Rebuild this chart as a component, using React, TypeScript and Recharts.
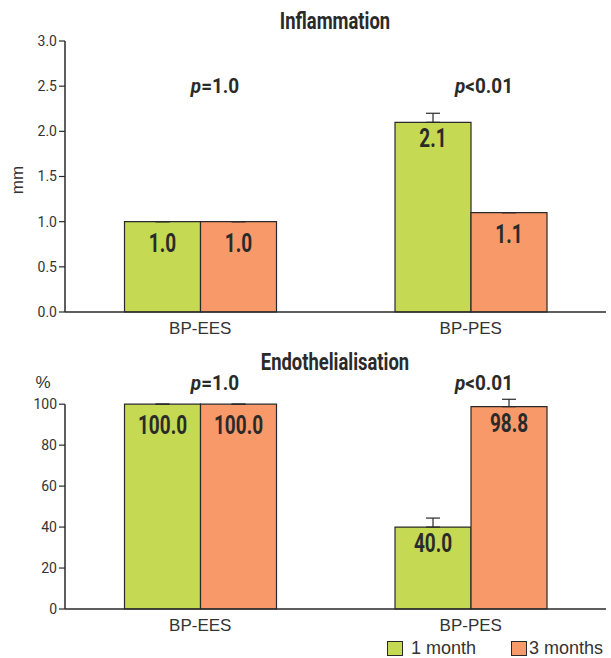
import { BarChart, Bar, XAxis, YAxis, ErrorBar, LabelList, ReferenceArea, ReferenceLine } from "recharts";
import type { CSSProperties, ReactNode } from "react";

const groups = ["BP-EES", "BP-PES"];

const inflammation1m = [1.0, 2.1];
const inflammation3m = [1.0, 1.1];
const inflammationErr1m = [0, 0.1];
const inflammationErr3m = [0, 0];
const inflammationTicks = [0, 0.5, 1, 1.5, 2, 2.5, 3];

const endo1m = [100.0, 40.0];
const endo3m = [100.0, 98.8];
const endoErr1m = [0, 4.4];
const endoErr3m = [0, 3.6];
const endoTicks = [0, 20, 40, 60, 80, 100];

const pInflammation = ["=1.0", "<0.01"];
const pEndo = ["=1.0", "<0.01"];

// group boundaries on the helper axis
const boundaryTicks = [0, 1, 2];

const GREEN = "#c5d952";
const ORANGE = "#f8996a";
const BG = "#ece9d7";
const INK = "#2a2a2a";
const COND = "Roboto, 'Liberation Sans', Arial, sans-serif";
const SANS = "'Liberation Sans', Arial, sans-serif";

const inflammationData = groups.map((g, i) => ({
  group: g,
  m1: inflammation1m[i],
  m3: inflammation3m[i],
  e1: [0, inflammationErr1m[i]],
  e3: [0, inflammationErr3m[i]],
}));

const endoData = groups.map((g, i) => ({
  group: g,
  m1: endo1m[i],
  m3: endo3m[i],
  e1: [0, endoErr1m[i]],
  e3: [0, endoErr3m[i]],
}));

function valueLabel(fmt: (v: number) => string, errKey: "e1" | "e3", data: any[]) {
  return (props: any) => {
    const { x, y, width, value, index } = props;
    const hasErr = data[index] && data[index][errKey][1] > 0;
    const cx = x + width / 2;
    const cy = y + (hasErr ? 25 : 30);
    return (
      <text
        transform={`translate(${cx},${cy}) scale(0.76,1)`}
        x={0}
        y={0}
        textAnchor="middle"
        fontFamily={COND}
        fontWeight="bold"
        fontSize={25}
        fill={INK}
      >
        {fmt(value)}
      </text>
    );
  };
}

interface PanelProps {
  data: any[];
  ticks: number[];
  domain: [number, number];
  areaTop: number;
  height: number;
  marginTop: number;
  marginBottom: number;
  tickFmt: (v: number) => string;
  valFmt: (v: number) => string;
}

function Panel({ data, ticks, domain, areaTop, height, marginTop, marginBottom, tickFmt, valFmt }: PanelProps) {
  return (
    <BarChart
      width={611}
      height={height}
      data={data}
      margin={{ top: marginTop, right: 5, bottom: marginBottom, left: 25 }}
      barCategoryGap="22%"
      barGap={0}
    >
      {/* numeric helper axis (id 0): axis line + ticks at group boundaries */}
      <XAxis
        type="number"
        domain={[0, 2]}
        ticks={boundaryTicks}
        tick={false}
        height={1}
        axisLine={{ stroke: INK, strokeWidth: 1.5 }}
        tickLine={{ stroke: INK, strokeWidth: 1.3 }}
        tickSize={6}
      />
      <XAxis
        xAxisId="cat"
        dataKey="group"
        height={25}
        axisLine={false}
        tickLine={false}
        tickMargin={3}
        tick={{ fontSize: 17, fill: "#333", fontFamily: SANS }}
      />
      <YAxis
        width={40}
        domain={domain}
        ticks={ticks}
        axisLine={false}
        tickLine={{ stroke: INK, strokeWidth: 1.2 }}
        tickFormatter={tickFmt}
        tick={{ fontSize: 14, fill: "#333", fontFamily: COND }}
      />
      <ReferenceArea x1={0} x2={2} y1={0} y2={areaTop} fill={BG} fillOpacity={1} stroke="none" />
      <ReferenceLine segment={[{ x: 0, y: 0 }, { x: 0, y: areaTop }]} stroke={INK} strokeWidth={1.5} />
      <Bar xAxisId="cat" dataKey="m1" fill={GREEN} stroke={INK} strokeWidth={1.2} isAnimationActive={false}>
        <ErrorBar dataKey="e1" width={7} stroke={INK} strokeWidth={1.2} />
        <LabelList dataKey="m1" content={valueLabel(valFmt, "e1", data)} />
      </Bar>
      <Bar xAxisId="cat" dataKey="m3" fill={ORANGE} stroke={INK} strokeWidth={1.2} isAnimationActive={false}>
        <ErrorBar dataKey="e3" width={7} stroke={INK} strokeWidth={1.2} />
        <LabelList dataKey="m3" content={valueLabel(valFmt, "e3", data)} />
      </Bar>
    </BarChart>
  );
}

function At({ x, y, children, style, sx = 1 }: { x: number; y: number; children: ReactNode; style?: CSSProperties; sx?: number }) {
  return (
    <div
      style={{
        position: "absolute",
        left: x,
        top: y,
        transform: `translate(-50%, -50%) scaleX(${sx})`,
        whiteSpace: "nowrap",
        lineHeight: 1.2,
        color: INK,
        ...style,
      }}
    >
      {children}
    </div>
  );
}

const titleStyle: CSSProperties = { fontFamily: COND, fontWeight: "bold", fontSize: 23 };
const pStyle: CSSProperties = { fontFamily: COND, fontWeight: "bold", fontSize: 21 };

function Legend() {
  const items = [
    { label: "1 month", color: GREEN, x: 387, gap: 8 },
    { label: "3 months", color: ORANGE, x: 511, gap: 2 },
  ];
  return (
    <>
      {items.map((it) => (
        <div
          key={it.label}
          style={{ position: "absolute", left: it.x, top: 638, display: "flex", alignItems: "center" }}
        >
          <span
            style={{
              display: "inline-block",
              width: 14,
              height: 13,
              background: it.color,
              border: `1.2px solid ${INK}`,
            }}
          />
          <span style={{ fontFamily: SANS, fontSize: 18, color: "#333", marginLeft: it.gap, lineHeight: "21px" }}>
            {it.label}
          </span>
        </div>
      ))}
    </>
  );
}

export default function App() {
  return (
    <div style={{ position: "absolute", left: 0, top: 0, width: 611, height: 658, background: "#fff" }}>
      <div style={{ position: "absolute", left: 0, top: 0 }}>
        <Panel
          data={inflammationData}
          ticks={inflammationTicks}
          domain={[0, 3]}
          areaTop={3}
          height={340}
          marginTop={41}
          marginBottom={2}
          tickFmt={(v) => v.toFixed(1)}
          valFmt={(v) => v.toFixed(1)}
        />
      </div>
      <div style={{ position: "absolute", left: 0, top: 340 }}>
        <Panel
          data={endoData}
          ticks={endoTicks}
          domain={[0, 104]}
          areaTop={100}
          height={318}
          marginTop={56}
          marginBottom={23}
          tickFmt={(v) => String(v)}
          valFmt={(v) => v.toFixed(1)}
        />
      </div>

      <At x={335} y={22} style={titleStyle} sx={0.8}>Inflammation</At>
      <At x={18} y={180} style={{ fontFamily: SANS, fontSize: 17, color: "#333", transform: "translate(-50%, -50%) rotate(-90deg)" }}>
        mm
      </At>
      <At x={215} y={87} style={pStyle} sx={0.9}><i>p</i>{pInflammation[0]}</At>
      <At x={484} y={87} style={pStyle} sx={0.9}><i>p</i>{pInflammation[1]}</At>

      <At x={335} y={363} style={titleStyle} sx={0.8}>Endothelialisation</At>
      <At x={43} y={383} style={{ fontFamily: SANS, fontSize: 17, color: "#333" }}>%</At>
      <At x={215} y={384} style={pStyle} sx={0.9}><i>p</i>{pEndo[0]}</At>
      <At x={484} y={384} style={pStyle} sx={0.9}><i>p</i>{pEndo[1]}</At>

      <Legend />
    </div>
  );
}
